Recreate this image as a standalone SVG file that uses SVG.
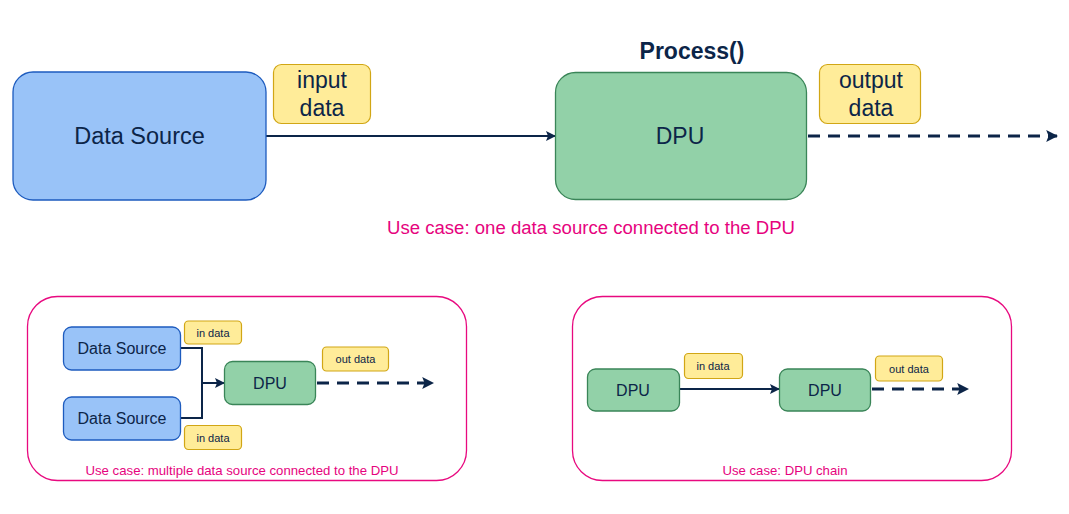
<svg xmlns="http://www.w3.org/2000/svg" width="1069" height="514" viewBox="0 0 1069 514">
<style>
text{font-family:"Liberation Sans",Arial,sans-serif;fill:#0C2548;text-anchor:middle;dominant-baseline:central}
.ds{fill:#99C3F8;stroke:#1D5BBE;stroke-width:1.3}
.dpu{fill:#92D1A8;stroke:#3A8558;stroke-width:1.3}
.lbl{fill:#FFEC99;stroke:#D1A615;stroke-width:1.2}
.box{fill:none;stroke:#E8097F;stroke-width:1.3}
.cap{fill:#E6037E}
.ln{fill:none;stroke:#0C2548;stroke-width:2}
.dash{fill:none;stroke:#0C2548;stroke-width:3;stroke-dasharray:12 8}
</style>
<defs>
<marker id="ah" viewBox="0 0 10 10" refX="9" refY="5" markerWidth="10" markerHeight="10" markerUnits="userSpaceOnUse" orient="auto">
<path d="M0,0 L10,5 L0,10 L2,5 Z" fill="#0C2548"/>
</marker>
<marker id="ah2" viewBox="0 0 10 10" refX="9" refY="5" markerWidth="12" markerHeight="12" markerUnits="userSpaceOnUse" orient="auto">
<path d="M0,0 L10,5 L0,10 L2,5 Z" fill="#0C2548"/>
</marker>
</defs>
<rect width="1069" height="514" fill="#fff"/>

<g id="containers">
<rect class="box" x="27.5" y="296.5" width="439" height="184" rx="30"/>
<rect class="box" x="572.5" y="296.5" width="439" height="184" rx="30"/>
</g>

<g id="connectors">
<line class="ln" x1="266" y1="136" x2="555" y2="136" marker-end="url(#ah)"/>
<line class="dash" x1="808" y1="136" x2="1057" y2="136" marker-end="url(#ah2)"/>
<polyline class="ln" points="181,348 202,348 202,418 181,418"/>
<line class="ln" x1="202" y1="383" x2="224" y2="383" marker-end="url(#ah)"/>
<line class="dash" x1="317" y1="383" x2="433" y2="383" marker-end="url(#ah2)"/>
<line class="ln" x1="679" y1="389" x2="779" y2="389" marker-end="url(#ah)"/>
<line class="dash" x1="872" y1="389" x2="968" y2="389" marker-end="url(#ah2)"/>
</g>

<g id="ds-main">
<rect class="ds" x="13" y="72" width="253" height="128" rx="20"/>
<text x="139.5" y="136" font-size="23.5">Data Source</text>
</g>
<g id="lbl-input">
<rect class="lbl" x="273.5" y="64.5" width="97" height="59" rx="8"/>
<text x="322" y="80" font-size="23">input</text>
<text x="322" y="108" font-size="23">data</text>
</g>
<g id="dpu-main">
<rect class="dpu" x="555.5" y="72.5" width="251" height="127" rx="20"/>
<text x="680" y="136" font-size="23">DPU</text>
<text x="692" y="51" font-size="23" font-weight="bold">Process()</text>
</g>
<g id="lbl-output">
<rect class="lbl" x="819.5" y="64.5" width="101" height="59" rx="8"/>
<text x="871" y="80" font-size="23">output</text>
<text x="871" y="108" font-size="23">data</text>
</g>
<g id="cap-main">
<text class="cap" x="591" y="228" font-size="18" textLength="408" lengthAdjust="spacingAndGlyphs">Use case: one data source connected to the DPU</text>
</g>

<g id="ds1">
<rect class="ds" x="63.5" y="327" width="117" height="43" rx="8"/>
<text x="122" y="348.5" font-size="16">Data Source</text>
</g>
<g id="ds2">
<rect class="ds" x="63.5" y="397" width="117" height="43" rx="8"/>
<text x="122" y="418.5" font-size="16">Data Source</text>
</g>
<g id="lbl-in1">
<rect class="lbl" x="184.5" y="321" width="57" height="23" rx="4"/>
<text x="213" y="332.5" font-size="11">in data</text>
</g>
<g id="lbl-in2">
<rect class="lbl" x="184.5" y="425.5" width="57" height="24" rx="4"/>
<text x="213" y="437.5" font-size="11">in data</text>
</g>
<g id="dpu-multi">
<rect class="dpu" x="224.5" y="361.5" width="91" height="43" rx="8"/>
<text x="270" y="383" font-size="16">DPU</text>
</g>
<g id="lbl-out1">
<rect class="lbl" x="322.5" y="347" width="66" height="24" rx="4"/>
<text x="355.5" y="358.5" font-size="11">out data</text>
</g>
<g id="cap-multi">
<text class="cap" x="242" y="470" font-size="13" textLength="313" lengthAdjust="spacingAndGlyphs">Use case: multiple data source connected to the DPU</text>
</g>

<g id="dpu-chain1">
<rect class="dpu" x="587.5" y="369" width="92" height="42" rx="8"/>
<text x="633" y="390" font-size="16">DPU</text>
</g>
<g id="lbl-in3">
<rect class="lbl" x="684.5" y="353.5" width="58" height="25" rx="4"/>
<text x="713" y="365.5" font-size="11">in data</text>
</g>
<g id="dpu-chain2">
<rect class="dpu" x="779.5" y="369" width="91" height="42" rx="8"/>
<text x="825" y="390" font-size="16">DPU</text>
</g>
<g id="lbl-out2">
<rect class="lbl" x="875.5" y="356" width="67" height="25" rx="4"/>
<text x="909" y="368.5" font-size="11">out data</text>
</g>
<g id="cap-chain">
<text class="cap" x="785" y="470" font-size="13" textLength="125" lengthAdjust="spacingAndGlyphs">Use case: DPU chain</text>
</g>
</svg>
